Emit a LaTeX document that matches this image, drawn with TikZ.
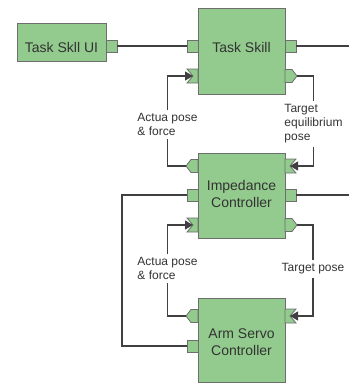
\documentclass[tikz,border=0pt]{standalone}
\usepackage{fontspec}
\setmainfont{Liberation Sans}
\usepackage{tikz}
\usepackage{xcolor}
\usetikzlibrary{arrows.meta, positioning}
\definecolor{Block_Green}{HTML}{92CB8D}
\definecolor{Block_Edge}{HTML}{6E6E6E}
\definecolor{Wire_Gray}{HTML}{404040}
\definecolor{Text_Gray}{HTML}{333333}

\tikzset{
    block/.style={draw=Block_Edge, fill=Block_Green, line width=0.9pt, inner sep=0pt},
    blocktext/.style={font=\fontsize{14}{17}\selectfont, text=Text_Gray, align=center},
    sigtext/.style={font=\fontsize{12}{14}\selectfont, text=Text_Gray, align=left, inner sep=3pt},
    portedge/.style={draw=Block_Edge, fill=Block_Green, line width=0.8pt},
    wire/.style={draw=Wire_Gray, line width=1.1pt},
    sig/.style={wire, -{Triangle[length=8pt, width=9pt]}},
    % ports are drawn for the left side of a block, xscale=-1 for the right side
    sqport/.pic={
        \draw[portedge] (0,-6) rectangle (-11,6);
        \coordinate (-end) at (-11,0);
    },
    outport/.pic={
        \draw[portedge] (0,-6.5) -- (-7,-6.5) -- (-12,0) -- (-7,6.5) -- (0,6.5) -- cycle;
        \coordinate (-end) at (-12,0);
    },
    inport/.pic={
        \draw[portedge] (0,-7) -- (-11,-7) -- (-5,0) -- (-11,7) -- (0,7) -- cycle;
        \coordinate (-end) at (-5,0);
    }
}

\begin{document}
\begin{tikzpicture}[x=1pt, y=-1pt]
    \useasboundingbox (0,0) rectangle (349,383);

    % Blocks
    \node[block, minimum width=89, minimum height=38] (ui) at (61.5,42) {};
    \node[block, minimum width=87, minimum height=86] (skill) at (241.5,51) {};
    \node[block, minimum width=87, minimum height=85] (imp) at (241.5,195.5) {};
    \node[block, minimum width=87, minimum height=84] (arm) at (241.5,340.5) {};

    \node[blocktext] (uiTxt) at (61.5,47) {Task Skll UI};
    \node[blocktext] (skillTxt) at (241.5,47) {Task Skill};
    \node[blocktext] (impTxt) at (241.5,194) {Impedance\\Controller};
    \node[blocktext] (armTxt) at (241.5,342) {Arm Servo\\Controller};

    % Ports
    \pic[xscale=-1] (uiP) at (106,46) {sqport};
    \pic (tsA) at (198,46) {sqport};
    \pic (tsC) at (198,76) {inport};
    \pic[xscale=-1] (tsB) at (285,46) {sqport};
    \pic[xscale=-1] (tsD) at (285,76) {outport};

    \pic (impA) at (198,166) {outport};
    \pic (impB) at (198,195) {sqport};
    \pic (impC) at (198,225) {inport};
    \pic[xscale=-1] (impD) at (285,166) {inport};
    \pic[xscale=-1] (impE) at (285,195) {sqport};
    \pic[xscale=-1] (impF) at (285,225) {outport};

    \pic (armA) at (198,316) {outport};
    \pic (armB) at (198,346) {sqport};
    \pic[xscale=-1] (armC) at (285,316) {inport};

    % Signal labels
    \node[sigtext] (act1) at (167.5,124.5) {Actua pose\\\& force};
    \node[sigtext] (teq) at (313.5,124) {Target\\equilibrium\\pose};
    \node[sigtext] (act2) at (167.5,268.5) {Actua pose\\\& force};
    \node[sigtext] (tp) at (313,269) {Target pose};

    \coordinate (eastA) at (349,46);
    \coordinate (eastB) at (349,195);

    % Wires
    \draw[wire] (uiP-end) -- (tsA-end);
    \draw[wire] (tsB-end) -- (eastA);
    \draw[sig] (act1.north) |- (tsC-end);
    \draw[wire] (tsD-end) -| (teq.north);
    \draw[wire] (impA-end) -| (act1.south);
    \draw[sig] (teq.south) |- (impD-end);
    \draw[wire] (impE-end) -- (eastB);
    \draw[wire] (impB-end) -- ++(-65,0) |- (armB-end);
    \draw[sig] (act2.north) |- (impC-end);
    \draw[wire] (impF-end) -| (tp.north);
    \draw[wire] (armA-end) -| (act2.south);
    \draw[sig] (tp.south) |- (armC-end);
\end{tikzpicture}
\end{document}
